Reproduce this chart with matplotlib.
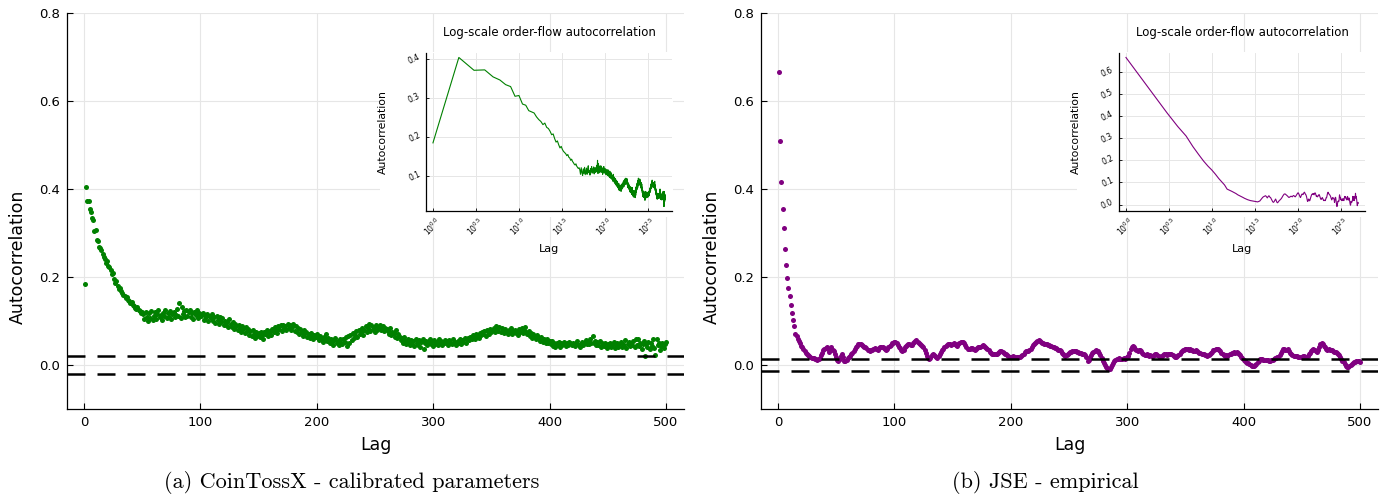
import numpy as np
import matplotlib.pyplot as plt
from matplotlib.patches import Rectangle
from matplotlib.ticker import NullLocator

# autocorrelation of order-flow signs, lags 1..500
acf_cointossx = [
    0.185, 0.405, 0.372, 0.373, 0.355, 0.347, 0.335, 0.330, 0.305, 0.307,
    0.285, 0.282, 0.268, 0.265, 0.262, 0.252, 0.245, 0.240, 0.232, 0.236,
    0.225, 0.222, 0.215, 0.206, 0.208, 0.196, 0.187, 0.190, 0.180, 0.172,
    0.176, 0.168, 0.163, 0.160, 0.157, 0.152, 0.155, 0.148, 0.146, 0.140,
    0.143, 0.137, 0.134, 0.130, 0.128, 0.131, 0.125, 0.122, 0.119, 0.121,
    0.116, 0.104, 0.121, 0.109, 0.101, 0.118, 0.106, 0.122, 0.103, 0.112,
    0.120, 0.104, 0.117, 0.126, 0.108, 0.113, 0.102, 0.119, 0.111, 0.124,
    0.107, 0.118, 0.110, 0.123, 0.105, 0.116, 0.121, 0.109, 0.114, 0.127,
    0.111, 0.140, 0.106, 0.132, 0.115, 0.123, 0.108, 0.126, 0.112, 0.120,
    0.125, 0.109, 0.118, 0.104, 0.121, 0.113, 0.124, 0.107, 0.119, 0.115,
    0.112, 0.118, 0.103, 0.114, 0.108, 0.116, 0.101, 0.111, 0.106, 0.115,
    0.099, 0.108, 0.096, 0.112, 0.102, 0.094, 0.109, 0.098, 0.106, 0.092,
    0.101, 0.090, 0.098, 0.086, 0.104, 0.093, 0.087, 0.097, 0.082, 0.094,
    0.089, 0.079, 0.092, 0.083, 0.076, 0.088, 0.081, 0.073, 0.086, 0.078,
    0.082, 0.069, 0.077, 0.065, 0.080, 0.071, 0.062, 0.075, 0.067, 0.073,
    0.064, 0.076, 0.068, 0.060, 0.074, 0.070, 0.079, 0.066, 0.072, 0.077,
    0.069, 0.082, 0.075, 0.086, 0.078, 0.072, 0.088, 0.081, 0.091, 0.077,
    0.092, 0.083, 0.088, 0.079, 0.094, 0.085, 0.090, 0.080, 0.087, 0.093,
    0.078, 0.089, 0.074, 0.084, 0.070, 0.081, 0.076, 0.067, 0.079, 0.072,
    0.075, 0.064, 0.070, 0.061, 0.073, 0.066, 0.058, 0.069, 0.063, 0.071,
    0.062, 0.056, 0.067, 0.059, 0.052, 0.064, 0.057, 0.070, 0.055, 0.061,
    0.050, 0.059, 0.053, 0.046, 0.057, 0.062, 0.049, 0.055, 0.045, 0.058,
    0.051, 0.047, 0.060, 0.053, 0.063, 0.044, 0.066, 0.050, 0.069, 0.057,
    0.072, 0.061, 0.068, 0.077, 0.064, 0.080, 0.071, 0.075, 0.083, 0.069,
    0.079, 0.088, 0.074, 0.085, 0.094, 0.078, 0.090, 0.082, 0.087, 0.076,
    0.091, 0.080, 0.086, 0.092, 0.079, 0.084, 0.089, 0.077, 0.085, 0.081,
    0.078, 0.070, 0.083, 0.068, 0.076, 0.073, 0.064, 0.079, 0.062, 0.071,
    0.066, 0.057, 0.061, 0.050, 0.063, 0.055, 0.047, 0.059, 0.052, 0.045,
    0.057, 0.048, 0.054, 0.044, 0.059, 0.050, 0.046, 0.056, 0.042, 0.053,
    0.058, 0.037, 0.049, 0.055, 0.045, 0.052, 0.060, 0.047, 0.054, 0.043,
    0.056, 0.048, 0.053, 0.045, 0.058, 0.050, 0.055, 0.046, 0.051, 0.057,
    0.049, 0.054, 0.045, 0.056, 0.051, 0.047, 0.058, 0.050, 0.053, 0.046,
    0.055, 0.050, 0.059, 0.048, 0.057, 0.053, 0.061, 0.051, 0.058, 0.062,
    0.057, 0.064, 0.060, 0.068, 0.062, 0.058, 0.070, 0.065, 0.061, 0.072,
    0.068, 0.075, 0.070, 0.078, 0.067, 0.080, 0.074, 0.071, 0.082, 0.076,
    0.079, 0.085, 0.076, 0.089, 0.081, 0.077, 0.086, 0.074, 0.083, 0.079,
    0.073, 0.082, 0.075, 0.070, 0.079, 0.074, 0.083, 0.071, 0.077, 0.080,
    0.072, 0.078, 0.069, 0.081, 0.075, 0.084, 0.073, 0.079, 0.086, 0.074,
    0.070, 0.077, 0.066, 0.073, 0.062, 0.071, 0.065, 0.060, 0.068, 0.063,
    0.061, 0.055, 0.064, 0.052, 0.059, 0.054, 0.049, 0.058, 0.051, 0.055,
    0.047, 0.055, 0.043, 0.051, 0.040, 0.049, 0.045, 0.053, 0.041, 0.050,
    0.046, 0.052, 0.048, 0.044, 0.050, 0.046, 0.053, 0.049, 0.045, 0.051,
    0.047, 0.043, 0.049, 0.054, 0.046, 0.042, 0.048, 0.052, 0.045, 0.050,
    0.056, 0.048, 0.053, 0.047, 0.058, 0.051, 0.066, 0.049, 0.055, 0.045,
    0.052, 0.046, 0.054, 0.041, 0.050, 0.047, 0.044, 0.051, 0.039, 0.048,
    0.043, 0.049, 0.040, 0.046, 0.052, 0.038, 0.045, 0.050, 0.042, 0.047,
    0.053, 0.041, 0.048, 0.044, 0.056, 0.039, 0.047, 0.052, 0.043, 0.049,
    0.045, 0.054, 0.040, 0.058, 0.046, 0.060, 0.043, 0.051, 0.037, 0.048,
    0.055, 0.021, 0.047, 0.041, 0.053, 0.036, 0.050, 0.044, 0.058, 0.039,
    0.022, 0.059, 0.045, 0.051, 0.034, 0.044, 0.050, 0.038, 0.047, 0.052,
]

acf_jse = [
    0.667, 0.509, 0.416, 0.354, 0.311, 0.263, 0.227, 0.197, 0.174, 0.156,
    0.137, 0.118, 0.103, 0.089, 0.070, 0.065, 0.060, 0.055, 0.050, 0.044,
    0.040, 0.036, 0.032, 0.028, 0.025, 0.022, 0.020, 0.018, 0.017, 0.016,
    0.015, 0.014, 0.013, 0.012, 0.014, 0.016, 0.022, 0.028, 0.033, 0.036,
    0.038, 0.040, 0.036, 0.030, 0.036, 0.040, 0.034, 0.032, 0.025, 0.018,
    0.012, 0.010, 0.014, 0.020, 0.025, 0.018, 0.010, 0.008, 0.012, 0.016,
    0.019, 0.021, 0.024, 0.027, 0.031, 0.036, 0.040, 0.044, 0.047, 0.048,
    0.048, 0.046, 0.044, 0.042, 0.040, 0.038, 0.035, 0.033, 0.032, 0.034,
    0.035, 0.036, 0.038, 0.037, 0.036, 0.035, 0.038, 0.040, 0.041, 0.040,
    0.038, 0.036, 0.035, 0.037, 0.040, 0.043, 0.046, 0.049, 0.051, 0.053,
    0.053, 0.050, 0.046, 0.042, 0.038, 0.034, 0.032, 0.035, 0.040, 0.044,
    0.046, 0.048, 0.047, 0.045, 0.046, 0.049, 0.052, 0.055, 0.056, 0.053,
    0.050, 0.047, 0.045, 0.044, 0.040, 0.035, 0.028, 0.021, 0.016, 0.014,
    0.017, 0.022, 0.025, 0.023, 0.020, 0.018, 0.017, 0.020, 0.025, 0.029,
    0.033, 0.036, 0.040, 0.044, 0.046, 0.047, 0.048, 0.047, 0.046, 0.048,
    0.050, 0.048, 0.045, 0.044, 0.047, 0.050, 0.052, 0.053, 0.052, 0.050,
    0.046, 0.041, 0.037, 0.036, 0.037, 0.039, 0.038, 0.036, 0.035, 0.036,
    0.038, 0.040, 0.042, 0.041, 0.043, 0.045, 0.044, 0.042, 0.039, 0.036,
    0.033, 0.030, 0.027, 0.025, 0.024, 0.025, 0.024, 0.025, 0.027, 0.029,
    0.031, 0.032, 0.030, 0.028, 0.026, 0.024, 0.022, 0.020, 0.018, 0.018,
    0.019, 0.020, 0.019, 0.018, 0.018, 0.019, 0.018, 0.018, 0.020, 0.023,
    0.026, 0.029, 0.031, 0.032, 0.031, 0.033, 0.037, 0.041, 0.045, 0.048,
    0.051, 0.053, 0.055, 0.056, 0.054, 0.052, 0.050, 0.049, 0.048, 0.048,
    0.047, 0.046, 0.045, 0.044, 0.043, 0.042, 0.040, 0.039, 0.038, 0.036,
    0.035, 0.033, 0.031, 0.028, 0.025, 0.023, 0.021, 0.022, 0.025, 0.028,
    0.029, 0.030, 0.031, 0.032, 0.032, 0.031, 0.030, 0.029, 0.028, 0.027,
    0.026, 0.025, 0.024, 0.023, 0.018, 0.010, 0.012, 0.018, 0.023, 0.027,
    0.030, 0.032, 0.033, 0.032, 0.031, 0.027, 0.022, 0.016, 0.010, 0.004,
    0.000, -0.004, -0.007, -0.009, -0.008, -0.004, 0.000, 0.004, 0.008, 0.011,
    0.013, 0.014, 0.015, 0.014, 0.013, 0.014, 0.015, 0.014, 0.015, 0.018,
    0.020, 0.028, 0.036, 0.042, 0.044, 0.040, 0.036, 0.033, 0.032, 0.033,
    0.033, 0.031, 0.028, 0.025, 0.022, 0.023, 0.024, 0.022, 0.021, 0.022,
    0.021, 0.020, 0.022, 0.024, 0.025, 0.023, 0.021, 0.019, 0.018, 0.020,
    0.023, 0.025, 0.024, 0.023, 0.025, 0.026, 0.025, 0.024, 0.022, 0.020,
    0.019, 0.018, 0.020, 0.023, 0.026, 0.029, 0.032, 0.034, 0.035, 0.036,
    0.037, 0.036, 0.035, 0.036, 0.035, 0.033, 0.031, 0.032, 0.033, 0.032,
    0.030, 0.028, 0.027, 0.026, 0.025, 0.024, 0.023, 0.022, 0.021, 0.022,
    0.024, 0.027, 0.030, 0.033, 0.035, 0.036, 0.037, 0.036, 0.034, 0.031,
    0.028, 0.025, 0.023, 0.021, 0.022, 0.021, 0.022, 0.024, 0.026, 0.027,
    0.028, 0.029, 0.028, 0.029, 0.028, 0.026, 0.023, 0.019, 0.015, 0.011,
    0.008, 0.006, 0.005, 0.004, 0.002, 0.000, -0.002, -0.003, -0.002, -0.001,
    0.002, 0.006, 0.010, 0.013, 0.014, 0.013, 0.012, 0.011, 0.012, 0.012,
    0.011, 0.010, 0.010, 0.011, 0.012, 0.014, 0.016, 0.017, 0.018, 0.018,
    0.022, 0.027, 0.032, 0.036, 0.037, 0.035, 0.034, 0.036, 0.032, 0.027,
    0.024, 0.022, 0.021, 0.020, 0.021, 0.020, 0.019, 0.018, 0.018, 0.019,
    0.020, 0.021, 0.019, 0.018, 0.020, 0.024, 0.028, 0.032, 0.034, 0.036,
    0.035, 0.031, 0.029, 0.033, 0.041, 0.047, 0.051, 0.048, 0.044, 0.040,
    0.036, 0.034, 0.036, 0.035, 0.034, 0.033, 0.032, 0.030, 0.029, 0.027,
    0.026, 0.022, 0.018, 0.014, 0.010, 0.006, 0.002, -0.002, -0.004, -0.005,
    -0.003, 0.000, 0.003, 0.005, 0.006, 0.007, 0.008, 0.009, 0.010, 0.006,
]

conf_bands = [0.02, 0.0135]
colors = ["#008000", "#800080"]
captions = ["(a) CoinTossX - calibrated parameters", "(b) JSE - empirical"]
inset_title = "Log-scale order-flow autocorrelation"
main_xticks = [0, 100, 200, 300, 400, 500]
main_yticks = [0.0, 0.2, 0.4, 0.6, 0.8]
inset_yticks = [[0.1, 0.2, 0.3, 0.4], [0.0, 0.1, 0.2, 0.3, 0.4, 0.5, 0.6]]
log_exponents = [0.0, 0.5, 1.0, 1.5, 2.0, 2.5]

W, H = 1395, 497


def box(x0, y0, x1, y1):
    return [x0 / W, 1 - y1 / H, (x1 - x0) / W, (y1 - y0) / H]


main_boxes = [(67, 13, 684, 409), (761, 13, 1378, 409)]
inset_boxes = [(426, 53, 672, 211), (1119, 53, 1365, 211)]
cover_boxes = [(380, 52, 673, 217), (1077, 52, 1378, 217)]
caption_x = [352, 1045]

fig = plt.figure(figsize=(W / 100, H / 100), dpi=100)
grid_c = "#e6e6e6"

for i, acf in enumerate([acf_cointossx, acf_jse]):
    acf = np.array(acf)
    lags = np.arange(1, len(acf) + 1)

    ax = fig.add_axes(box(*main_boxes[i]), zorder=0)
    ax.scatter(lags, acf, s=13, color=colors[i], linewidths=0, zorder=3)
    for c in (conf_bands[i], -conf_bands[i]):
        ax.axhline(c, color="black", lw=1.8, dashes=(7.2, 4.8), zorder=4)
    ax.set_xlim(-14.5, 515.5)
    ax.set_ylim(-0.1, 0.8)
    ax.set_xticks(main_xticks)
    ax.set_yticks(main_yticks)
    ax.set_yticklabels([f"{v:.1f}" for v in main_yticks])
    ax.grid(True, color=grid_c, lw=0.8)
    ax.set_axisbelow(True)
    for s in ("top", "right"):
        ax.spines[s].set_visible(False)
    for s in ("left", "bottom"):
        ax.spines[s].set_linewidth(0.9)
    ax.tick_params(direction="in", length=4.5, width=0.8, labelsize=9.5, pad=5)
    ax.set_xlabel("Lag", fontsize=12.5, va="center")
    ax.xaxis.set_label_coords(0.5, -0.091)
    ax.set_ylabel("Autocorrelation", fontsize=12.5, va="center")
    ax.yaxis.set_label_coords(-0.079, 0.384)

    # white backing behind the inset
    x0, y0, x1, y1 = cover_boxes[i]
    fig.add_artist(Rectangle((x0 / W, 1 - y1 / H), (x1 - x0) / W, (y1 - y0) / H,
                             transform=fig.transFigure, facecolor="white",
                             edgecolor="none", zorder=1))

    axi = fig.add_axes(box(*inset_boxes[i]), zorder=2)
    axi.plot(lags, acf, color=colors[i], lw=0.8)
    axi.set_xscale("log")
    lmax = np.log10(lags[-1])
    axi.set_xlim(10 ** (-0.03 * lmax), 10 ** (1.03 * lmax))
    pad = 0.03 * (acf.max() - acf.min())
    axi.set_ylim(acf.min() - pad, acf.max() + pad)
    axi.set_xticks([10 ** e for e in log_exponents])
    axi.set_xticklabels([f"$10^{{{e:.1f}}}$" for e in log_exponents],
                        rotation=45, ha="center")
    axi.xaxis.set_minor_locator(NullLocator())
    axi.set_yticks(inset_yticks[i])
    axi.set_yticklabels([f"{v:.1f}" for v in inset_yticks[i]], rotation=25,
                        ha="right", va="center")
    axi.grid(True, color=grid_c, lw=0.7)
    axi.set_axisbelow(True)
    for s in ("top", "right"):
        axi.spines[s].set_visible(False)
    for s in ("left", "bottom"):
        axi.spines[s].set_linewidth(0.9)
    axi.tick_params(direction="in", length=2.5, width=0.6, labelsize=5.5, pad=3)
    axi.text(0.5, 1.131, inset_title, fontsize=8.5, ha="center", va="center",
             transform=axi.transAxes)
    axi.set_xlabel("Lag", fontsize=8, va="center")
    axi.xaxis.set_label_coords(0.5, -0.242)
    axi.set_ylabel("Autocorrelation", fontsize=7.8, va="center")
    axi.yaxis.set_label_coords(-0.175, 0.5)

    fig.text(caption_x[i] / W, 1 - 483 / H, captions[i], fontfamily="cmr10",
             fontsize=16, ha="center", va="center")

fig.savefig("out.png", dpi=100)
